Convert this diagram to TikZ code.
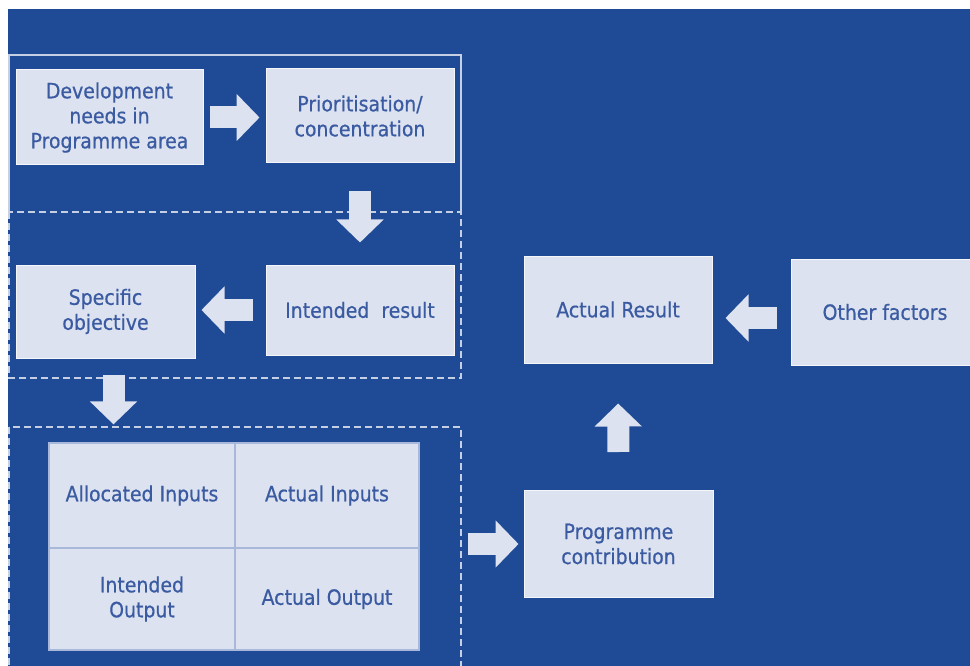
\documentclass[tikz,border=0pt]{standalone}
\usepackage{fontspec}
\setmainfont{DejaVu Sans Condensed}[FakeBold=0.6]
\usetikzlibrary{arrows.meta}
\definecolor{bgblue}{HTML}{1E4A96}
\definecolor{boxfill}{HTML}{DCE2EF}
\definecolor{boxtext}{HTML}{3A5AA2}
\definecolor{framecol}{HTML}{C6D0E5}
\definecolor{cellline}{HTML}{A8B8DA}
\begin{document}
\begin{tikzpicture}[x=1pt,y=-1pt,
  every node/.style={fill=boxfill,draw=white!70!boxfill,line width=1pt,text=boxtext,
    align=center,inner sep=2pt,font=\fontsize{21}{25}\selectfont},
  cell/.style={draw=cellline,line width=1.2pt},
  bigarrow/.style={draw=boxfill,line width=22pt,-{Triangle[width=46pt,length=23pt]}},
  frame/.style={draw=framecol,line width=1.4pt},
  dashframe/.style={frame,dash pattern=on 7pt off 4pt}]
  \useasboundingbox (0,0) rectangle (970,666);
  \fill[white] (0,0) rectangle (970,666);
  \fill[bgblue] (8,9) rectangle (970,666);

  % frames
  \draw[frame] (9,212) -- (9,55) -- (461,55) -- (461,212);
  \draw[dashframe] (9,212) rectangle (461,378);
  \draw[dashframe] (9,427) rectangle (461,690);

  \draw (109.5,117.5) node[minimum width=187pt,minimum height=95pt](dev) {Development\\needs in\\Programme area};
  \draw (360,116)     node[minimum width=188pt,minimum height=94pt](prio) {Prioritisation/\\concentration};
  \draw (360,310)     node[minimum width=188pt,minimum height=90pt](intd) {Intended\ \ result};
  \draw (105.5,311.5) node[minimum width=179pt,minimum height=93pt](spec) {Specific\\objective};

  \draw (618,309.5)   node[minimum width=188pt,minimum height=107pt](actual) {Actual Result};
  \draw (885,312)     node[minimum width=188pt,minimum height=106pt](other) {Other factors};
  \draw (618.5,544)   node[minimum width=189pt,minimum height=107pt](prog) {Programme\\contribution};

  \draw (142,495.5) node[cell,minimum width=186pt,minimum height=105pt](ai)   {Allocated Inputs};
  \draw (327,495.5) node[cell,minimum width=184pt,minimum height=105pt](acin) {Actual Inputs};
  \draw (142,599)   node[cell,minimum width=186pt,minimum height=102pt](io)   {Intended\\Output};
  \draw (327,599)   node[cell,minimum width=184pt,minimum height=102pt](ao)   {Actual Output};

  \path[bigarrow,shorten <=6pt,shorten >=6pt] (dev.east) -- (dev.east -| prio.west);
  \path[bigarrow,shorten <=28pt,shorten >=22pt] (prio.south) -- (intd.north);
  \path[bigarrow,shorten <=13pt,shorten >=6pt] (intd.west) -- (intd.west -| spec.east);
  \path[bigarrow,shorten <=16pt,shorten >=18pt] ([xshift=8pt]spec.south) -- ([xshift=8pt]spec.south |- ai.north);
  \path[bigarrow,shorten <=48pt,shorten >=5pt] (acin.south east |- prog.west) -- (prog.west);
  \path[bigarrow,shorten <=38pt,shorten >=40pt] (prog.north) -- (actual.south);
  \path[bigarrow,shorten <=14pt,shorten >=13pt] ([yshift=-6pt]other.west) -- ([yshift=-6pt]other.west -| actual.east);

\end{tikzpicture}
\end{document}
